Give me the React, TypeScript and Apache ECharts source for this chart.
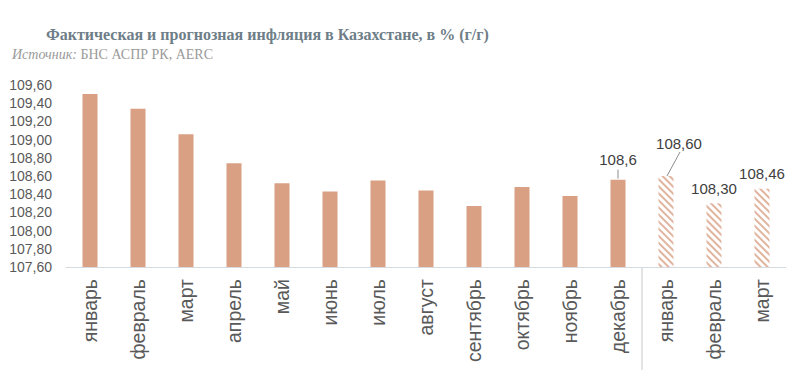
import React, { useEffect, useRef } from 'react';
import * as echarts from 'echarts';

const categories = ['январь', 'февраль', 'март', 'апрель', 'май', 'июнь', 'июль', 'август', 'сентябрь', 'октябрь', 'ноябрь', 'декабрь', 'январь', 'февраль', 'март'];
const actualValues = [109.5, 109.34, 109.06, 108.74, 108.52, 108.43, 108.55, 108.44, 108.27, 108.48, 108.38, 108.56];
const forecastValues = [108.6, 108.3, 108.46];
const yMin = 107.6;
const yMax = 109.6;
const yInterval = 0.2;
const titleText = 'Фактическая и прогнозная инфляция в Казахстане, в % (г/г)';
const sourceLabel = 'Источник:';
const sourceText = ' БНС АСПР РК, AERC';

const solidColor = '#d9a084';
const hatchColor = '#e0b49e';

export default function App() {
  const ref = useRef<HTMLDivElement>(null);
  useEffect(() => {
    if (!ref.current) return;
    const chart = echarts.init(ref.current, undefined, { renderer: 'svg' });
    const nA = actualValues.length;
    const actualData: any[] = categories.map((_, i) => {
      if (i >= nA) return '-';
      if (i === nA - 1) {
        return {
          value: actualValues[i],
          label: {
            show: true,
            position: 'top',
            distance: 13,
            formatter: (p: any) => p.value.toFixed(1).replace('.', ','),
          },
        };
      }
      return actualValues[i];
    });
    const forecastDist = [25, 7, 8];
    const forecastOffset = [13, 0, 0];
    const forecastData: any[] = categories.map((_, i) => {
      if (i < nA) return '-';
      const k = i - nA;
      return {
        value: forecastValues[k],
        label: {
          show: true,
          position: 'top',
          distance: forecastDist[k],
          offset: [forecastOffset[k], 0],
          formatter: (p: any) => p.value.toFixed(2).replace('.', ','),
        },
      };
    });
    const labelStyle = { color: '#404040', fontSize: 15, fontFamily: 'Liberation Sans, Arial, sans-serif' };
    chart.setOption({
      animation: false,
      backgroundColor: '#ffffff',
      title: [
        {
          text: titleText,
          left: 41,
          top: 21,
          textStyle: { fontFamily: 'Liberation Serif, serif', fontWeight: 'bold', fontSize: 16, color: '#6e7e88' },
        },
        {
          text: `{i|${sourceLabel}}{n|${sourceText}}`,
          left: 7,
          top: 42,
          textStyle: {
            fontWeight: 'normal',
            rich: {
              i: { fontFamily: 'Liberation Serif, serif', fontStyle: 'italic', fontWeight: 'normal', fontSize: 14, color: '#9a9a9a' },
              n: { fontFamily: 'Liberation Serif, serif', fontWeight: 'normal', fontSize: 14, color: '#9a9a9a' },
            },
          },
        },
      ],
      grid: { left: 66, right: 14, top: 85, bottom: 107, containLabel: false },
      xAxis: {
        type: 'category',
        data: categories,
        axisLine: { show: true, lineStyle: { color: '#d5dade', width: 1 } },
        axisTick: { show: false },
        axisLabel: {
          rotate: 90,
          margin: 12,
          interval: 0,
          color: '#595959',
          fontSize: 19.5,
          fontFamily: 'Liberation Sans, Arial, sans-serif',
        },
      },
      yAxis: {
        type: 'value',
        min: yMin,
        max: yMax,
        interval: yInterval,
        axisLine: { show: false },
        axisTick: { show: false },
        splitLine: { show: false },
        axisLabel: {
          margin: 14,
          color: '#595959',
          fontSize: 14,
          fontFamily: 'Liberation Sans, Arial, sans-serif',
          formatter: (v: number) => v.toFixed(2).replace('.', ','),
        },
      },
      series: [
        {
          type: 'bar',
          data: actualData,
          barWidth: 15,
          barGap: '-100%',
          itemStyle: { color: solidColor },
          label: labelStyle,
        },
        {
          type: 'bar',
          data: forecastData,
          barWidth: 15,
          barGap: '-100%',
          itemStyle: {
            color: '#ffffff',
            decal: {
              symbol: 'rect',
              symbolSize: 1,
              dashArrayX: [1, 0],
              dashArrayY: [1.2, 2.8],
              rotation: Math.PI / 4,
              color: hatchColor,
            },
          },
          label: labelStyle,
        },
      ],
    });

    const sepA = chart.convertToPixel({ xAxisIndex: 0 }, nA - 1) as number;
    const sepB = chart.convertToPixel({ xAxisIndex: 0 }, nA) as number;
    const base = chart.convertToPixel({ yAxisIndex: 0 }, yMin) as number;
    const decTop = chart.convertToPixel({ seriesIndex: 0 }, [nA - 1, actualValues[nA - 1]]) as number[];
    const fTop = chart.convertToPixel({ seriesIndex: 1 }, [nA, forecastValues[0]]) as number[];
    chart.setOption({
      graphic: [
        {
          type: 'line',
          shape: { x1: (sepA + sepB) / 2, y1: base, x2: (sepA + sepB) / 2, y2: base + 103 },
          style: { stroke: '#c8c8c8', lineWidth: 1 },
          silent: true,
        },
        {
          type: 'line',
          shape: { x1: decTop[0], y1: decTop[1] - 1, x2: decTop[0], y2: decTop[1] - 10 },
          style: { stroke: '#8c8c8c', lineWidth: 1 },
          silent: true,
        },
        {
          type: 'line',
          shape: { x1: fTop[0] + 1, y1: fTop[1], x2: fTop[0] + 14, y2: fTop[1] - 24 },
          style: { stroke: '#8c8c8c', lineWidth: 1 },
          silent: true,
        },
      ],
    });
    return () => chart.dispose();
  }, []);
  return <div ref={ref} style={{ width: 800, height: 374, position: 'absolute', left: 0, top: 0 }} />;
}
